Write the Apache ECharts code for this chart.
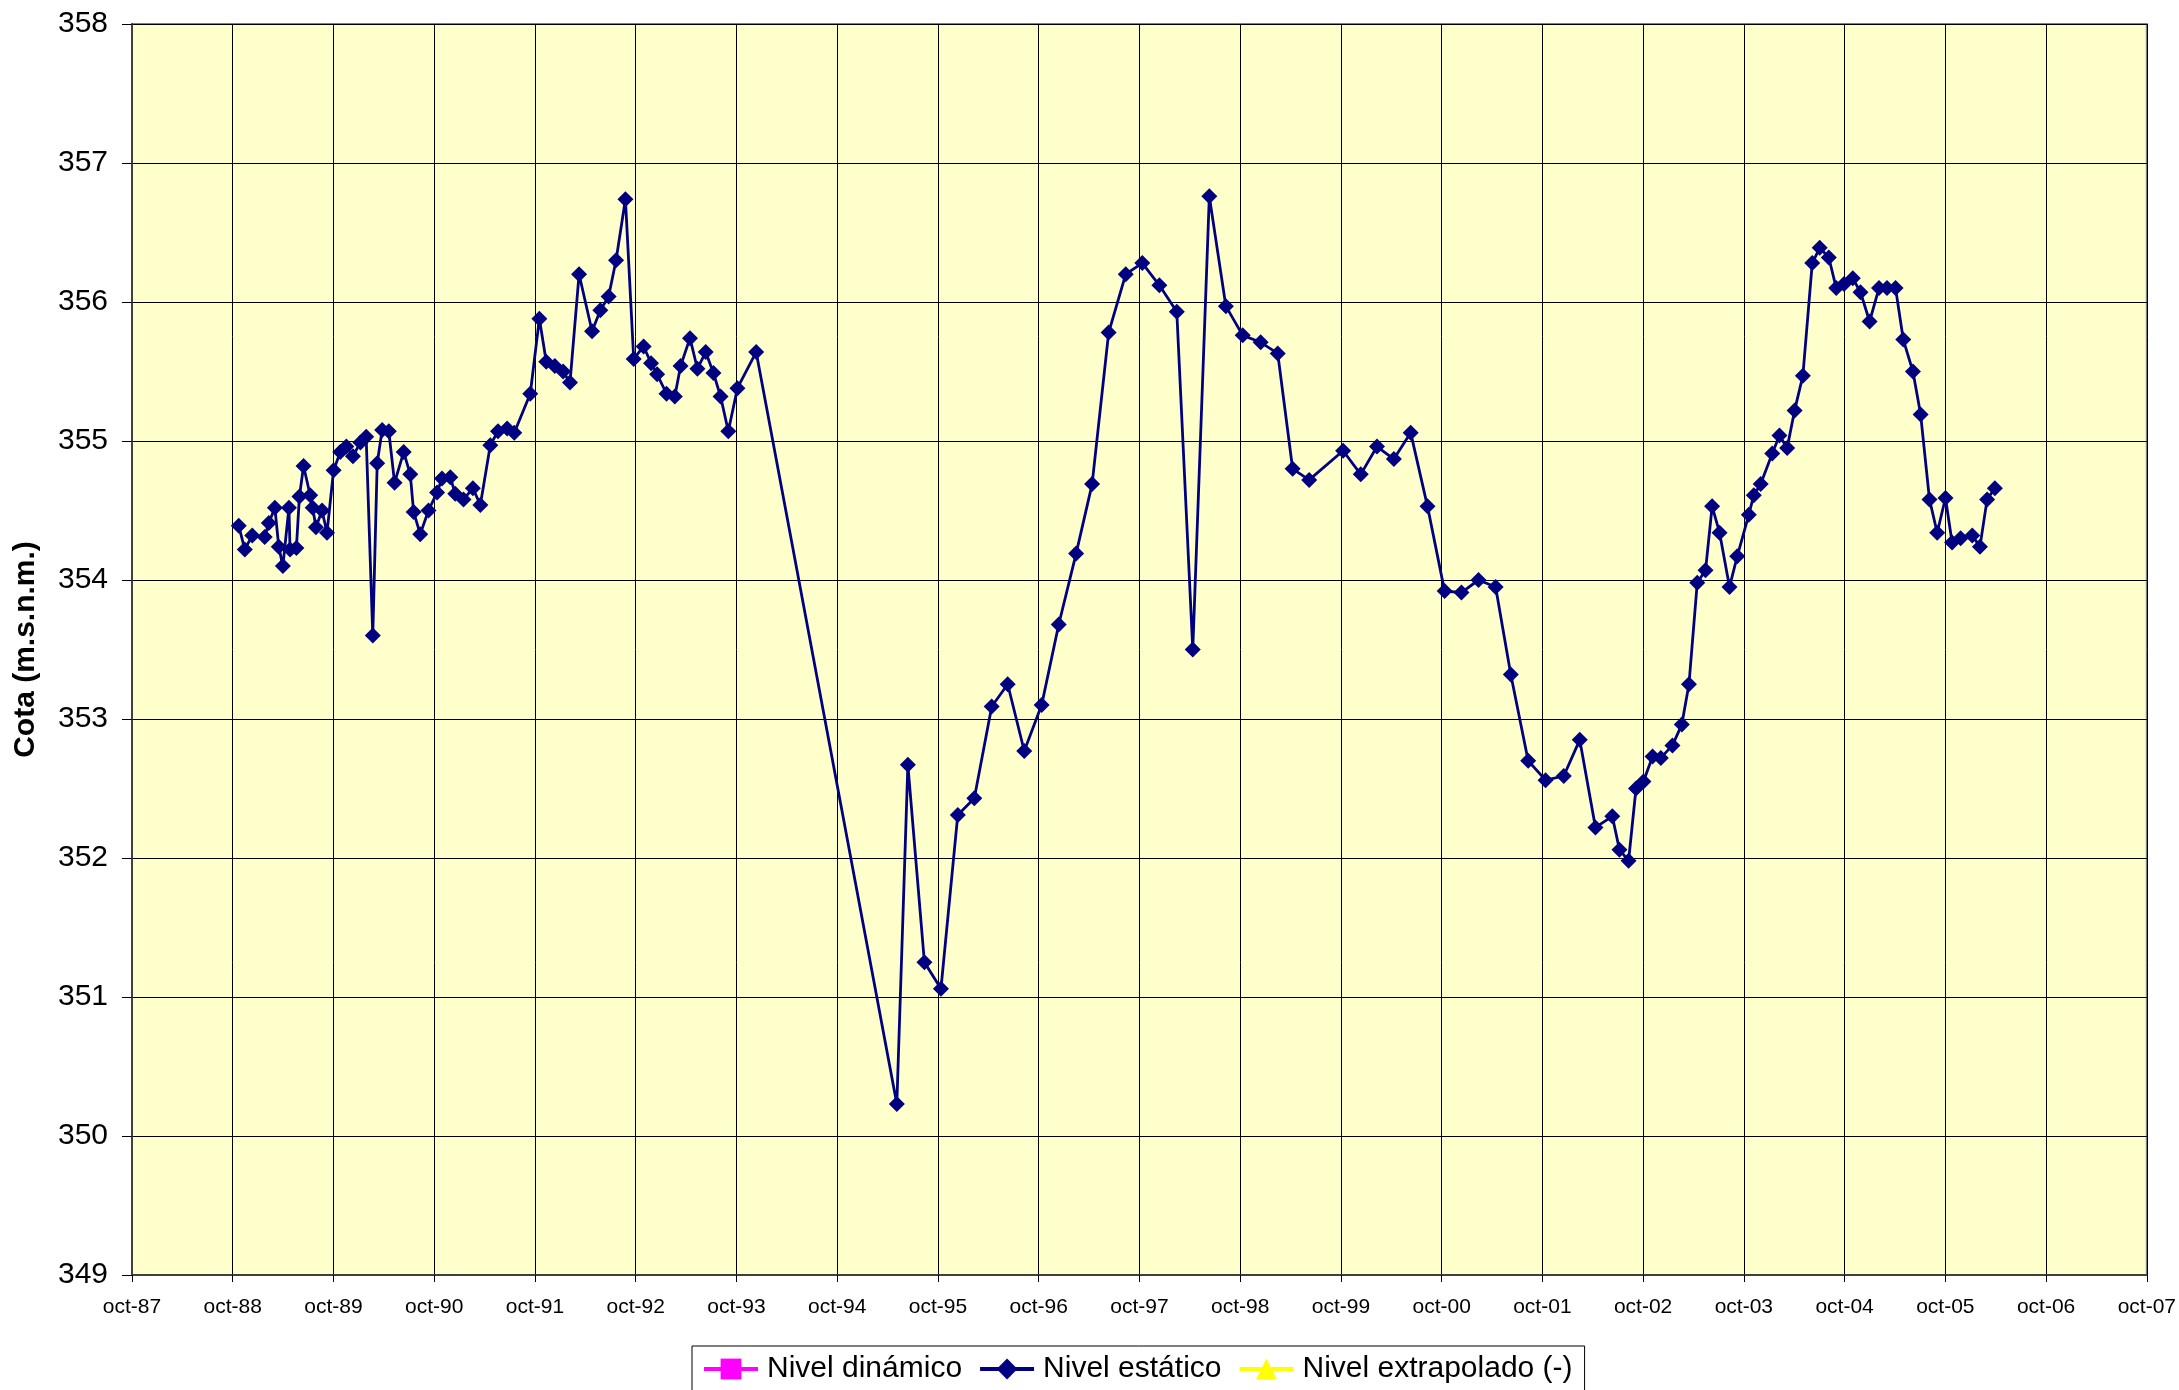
<!DOCTYPE html>
<html>
<head>
<meta charset="utf-8">
<title>Cota (m.s.n.m.)</title>
<script src="https://cdn.jsdelivr.net/npm/echarts@6/dist/echarts.min.js"></script>
<style>
  html, body { margin: 0; padding: 0; background: #ffffff; }
  #chart { width: 2179px; height: 1390px; }
</style>
</head>
<body>
<div id="chart"></div>
<script>
// Measurement dates (static level)
const measureDates = [
  '1988-10-22','1988-11-13','1988-12-10','1989-01-24','1989-02-08','1989-03-02','1989-03-16','1989-03-31',
  '1989-04-22','1989-04-26','1989-05-19','1989-05-30','1989-06-14','1989-07-08','1989-07-17','1989-07-29',
  '1989-08-20','1989-09-07','1989-10-01','1989-10-25','1989-11-16','1989-12-10','1990-01-06','1990-01-27',
  '1990-02-20','1990-03-08','1990-03-26','1990-04-19','1990-05-10','1990-06-12','1990-07-06','1990-07-18',
  '1990-08-11','1990-09-10','1990-10-11','1990-10-29','1990-11-28','1990-12-16','1991-01-15','1991-02-18',
  '1991-03-17','1991-04-22','1991-05-20','1991-06-22','1991-07-18','1991-09-14','1991-10-17','1991-11-11',
  '1991-12-12','1992-01-11','1992-02-05','1992-03-09','1992-04-25','1992-05-25','1992-06-24','1992-07-21',
  '1992-08-24','1992-09-23','1992-10-29','1992-11-25','1992-12-17','1993-01-20','1993-02-19','1993-03-12',
  '1993-04-15','1993-05-12','1993-06-11','1993-07-09','1993-08-04','1993-09-01','1993-10-04','1993-12-11',
  '1995-05-05','1995-06-14','1995-08-13','1995-10-12','1995-12-12','1996-02-10','1996-04-13','1996-06-10',
  '1996-08-09','1996-10-11','1996-12-12','1997-02-13','1997-04-12','1997-06-11','1997-08-12','1997-10-11',
  '1997-12-12','1998-02-13','1998-04-12','1998-06-11','1998-08-10','1998-10-10','1998-12-14','1999-02-14',
  '1999-04-09','1999-06-08','1999-10-09','1999-12-12','2000-02-09','2000-04-10','2000-06-10','2000-08-10',
  '2000-10-11','2000-12-11','2001-02-11','2001-04-14','2001-06-08','2001-08-10','2001-10-12','2001-12-17',
  '2002-02-13','2002-04-11','2002-06-11','2002-07-07','2002-08-09','2002-09-05','2002-10-02','2002-11-04',
  '2002-12-04','2003-01-15','2003-02-18','2003-03-16','2003-04-15','2003-05-15','2003-06-08','2003-07-05',
  '2003-08-10','2003-09-07','2003-10-19','2003-11-06','2003-12-01','2004-01-12','2004-02-07','2004-03-06',
  '2004-04-02','2004-05-02','2004-06-05','2004-07-02','2004-08-04','2004-08-31','2004-09-28','2004-10-30',
  '2004-11-27','2004-12-30','2005-02-02','2005-03-03','2005-04-03','2005-05-01','2005-06-05','2005-07-03',
  '2005-08-04','2005-09-01','2005-10-01','2005-10-25','2005-11-25','2006-01-06','2006-02-03','2006-03-01',
  '2006-03-29'
];

// Static level, m above sea level
const nivelEstatico = [
  354.39,354.22,354.32,354.31,354.41,354.52,354.24,354.10,
  354.52,354.22,354.23,354.60,354.82,354.61,354.52,354.38,
  354.50,354.34,354.79,354.92,354.96,354.89,354.99,355.03,
  353.60,354.84,355.08,355.07,354.70,354.92,354.76,354.49,
  354.33,354.50,354.63,354.73,354.74,354.62,354.58,354.66,
  354.54,354.97,355.07,355.09,355.06,355.34,355.88,355.57,
  355.54,355.50,355.42,356.20,355.79,355.94,356.04,356.30,
  356.74,355.59,355.68,355.56,355.48,355.34,355.32,355.54,
  355.74,355.52,355.64,355.49,355.32,355.07,355.38,355.64,
  350.23,352.67,351.25,351.06,352.31,352.43,353.09,353.25,
  352.77,353.10,353.68,354.19,354.69,355.78,356.20,356.28,
  356.12,355.93,353.50,356.76,355.97,355.76,355.71,355.63,
  354.80,354.72,354.93,354.76,354.96,354.87,355.06,354.53,
  353.92,353.91,354.00,353.95,353.32,352.70,352.56,352.59,
  352.85,352.22,352.30,352.06,351.98,352.50,352.55,352.73,
  352.72,352.81,352.96,353.25,353.98,354.07,354.53,354.34,
  353.95,354.17,354.47,354.61,354.69,354.91,355.04,354.95,
  355.22,355.47,356.28,356.39,356.32,356.10,356.13,356.17,
  356.07,355.86,356.10,356.10,356.10,355.73,355.50,355.19,
  354.58,354.34,354.59,354.27,354.30,354.32,354.24,354.58,
  354.66
];

// Dynamic and extrapolated levels have no readings in this period
const nivelDinamico = [];
const nivelExtrapolado = [];

const seriesNames = ['Nivel dinámico', 'Nivel estático', 'Nivel extrapolado (-)'];
const yAxisTitle = 'Cota (m.s.n.m.)';

// x axis runs in years counted from 1 October 1987
const AXIS_START = Date.UTC(1987, 9, 1);
const YEAR_MS = 365.25 * 86400000;
function yearsFromStart(s) {
  const p = s.split('-').map(Number);
  return (Date.UTC(p[0], p[1] - 1, p[2]) - AXIS_START) / YEAR_MS;
}
function octLabel(v) {
  const yy = (87 + Math.round(v)) % 100;
  return 'oct-' + String(yy).padStart(2, '0');
}

const estaticoPoints = measureDates.map((d, i) => [yearsFromStart(d), nivelEstatico[i]]);

const FONT = '"Liberation Sans", Arial, sans-serif';

const chart = echarts.init(document.getElementById('chart'), null, { renderer: 'canvas' });
chart.setOption({
  animation: false,
  backgroundColor: '#ffffff',
  textStyle: { fontFamily: FONT, color: '#000' },
  grid: {
    left: 132, top: 24, width: 2015, height: 1251,
    show: true, backgroundColor: '#FFFFCC', borderColor: '#808080', borderWidth: 2
  },
  xAxis: {
    type: 'value', min: 0, max: 20, interval: 1,
    axisLine: { show: true, onZero: false, lineStyle: { color: '#404040', width: 2 } },
    axisTick: { show: true, length: 7, lineStyle: { color: '#000', width: 1 } },
    axisLabel: { formatter: octLabel, fontSize: 21, color: '#000', fontFamily: FONT, margin: 22 },
    splitLine: { show: true, lineStyle: { color: '#000', width: 1 } }
  },
  yAxis: {
    type: 'value', min: 349, max: 358, interval: 1,
    name: yAxisTitle, nameLocation: 'middle', nameRotate: 90, nameGap: 91,
    nameTextStyle: { fontSize: 30, fontWeight: 'bold', color: '#000', fontFamily: FONT },
    axisLine: { show: true, lineStyle: { color: '#404040', width: 2 } },
    axisTick: { show: true, length: 10, lineStyle: { color: '#000', width: 1 } },
    axisLabel: { fontSize: 30, color: '#000', fontFamily: FONT, margin: 24 },
    splitLine: { show: true, lineStyle: { color: '#000', width: 1 } }
  },
  legend: {
    left: 692, top: 1346,
    orient: 'horizontal',
    backgroundColor: '#ffffff', borderColor: '#000', borderWidth: 1,
    padding: [8, 12, 8, 10],
    itemWidth: 54, itemHeight: 26, itemGap: 16,
    lineStyle: { width: 4 },
    textStyle: { fontSize: 30, color: '#000', fontFamily: FONT, lineHeight: 30, padding: [0, 0, 0, 4] },
    data: seriesNames
  },
  series: [
    {
      name: seriesNames[0], type: 'line', data: nivelDinamico,
      symbol: 'rect', symbolSize: 13,
      itemStyle: { color: '#FF00FF' }, lineStyle: { color: '#FF00FF', width: 3 }
    },
    {
      name: seriesNames[1], type: 'line', data: estaticoPoints,
      symbol: 'diamond', symbolSize: 16, showAllSymbol: true,
      itemStyle: { color: '#000080' }, lineStyle: { color: '#000080', width: 2.8 }
    },
    {
      name: seriesNames[2], type: 'line', data: nivelExtrapolado,
      symbol: 'triangle', symbolSize: 14,
      itemStyle: { color: '#FFFF00' }, lineStyle: { color: '#FFFF00', width: 3 }
    }
  ]
});
</script>
</body>
</html>
